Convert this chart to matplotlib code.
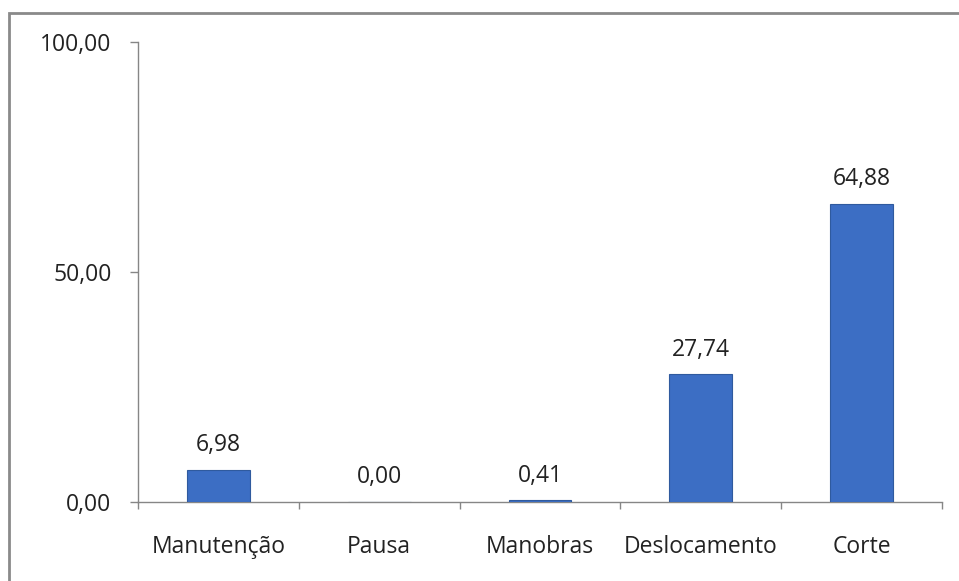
import matplotlib
matplotlib.use('Agg')
import matplotlib.pyplot as plt
from matplotlib.patches import Rectangle
from matplotlib import rcParams

rcParams['font.family'] = ['Open Sans', 'DejaVu Sans']

categories = ['Manutenção', 'Pausa', 'Manobras', 'Deslocamento', 'Corte']
values = [6.98, 0.00, 0.41, 27.74, 64.88]
yticks = [0, 50, 100]

AXIS = '#868686'
BAR = '#3C6EC4'
EDGE = '#2F5A9E'
TEXT = '#222222'

fig = plt.figure(figsize=(9.59, 5.81), dpi=100)
ax = fig.add_axes([138 / 959, 1 - 502 / 581, (942 - 138) / 959, (502 - 42) / 581])

x = list(range(len(categories)))
ax.bar(x, values, width=0.39, color=BAR, edgecolor=EDGE, linewidth=0.8, zorder=3)

for xi, v in zip(x, values):
    ax.annotate(f'{v:.2f}'.replace('.', ','), (xi, v), xytext=(0, 9),
                textcoords='offset points', ha='center', va='bottom',
                fontsize=16.5, color=TEXT)

ax.set_xlim(-0.5, len(categories) - 0.5)
ax.set_ylim(0, 100)
ax.set_yticks(yticks)
ax.set_yticklabels([f'{t:.2f}'.replace('.', ',') for t in yticks], fontsize=16.5, color=TEXT)
ax.tick_params(axis='y', length=6, width=1, color=AXIS, pad=13)

ax.set_xticks(x)
ax.set_xticklabels(categories, fontsize=16.5, color=TEXT)
ax.tick_params(axis='x', which='major', length=0, pad=24)
ax.set_xticks([i - 0.5 for i in range(len(categories) + 1)], minor=True)
ax.tick_params(axis='x', which='minor', length=5, width=1, color=AXIS, direction='out')

for side in ['top', 'right']:
    ax.spines[side].set_visible(False)
for side in ['left', 'bottom']:
    ax.spines[side].set_color(AXIS)
    ax.spines[side].set_linewidth(1)

# outer chart border (only top and left edges fall inside the image)
fig.patches.append(Rectangle((9 / 959, -20 / 581), 970 / 959, (581 - 13 + 20) / 581,
                             transform=fig.transFigure, fill=False,
                             edgecolor='#8a8a8a', linewidth=2))

fig.savefig('out.png', dpi=100)
